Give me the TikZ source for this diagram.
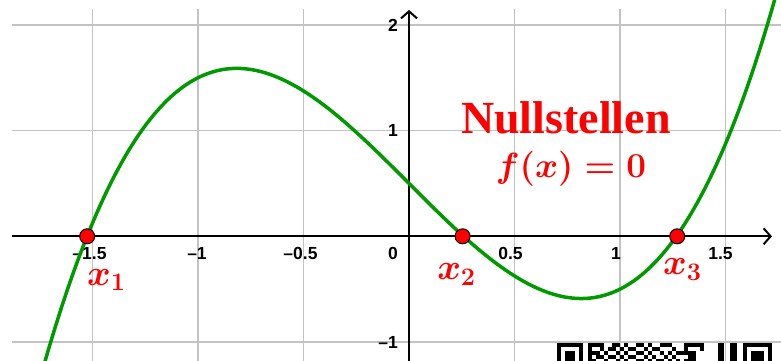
\RequirePackage{fix-cm}
\documentclass[tikz,border=0pt]{standalone}
\usepackage{fontspec}
\newfontfamily\axfont{Liberation Sans}
\newfontfamily\titlefont{Liberation Serif}
\usetikzlibrary{arrows.meta}
\definecolor{ggreen}{RGB}{0,153,0}
\definecolor{gridgray}{RGB}{195,195,195}
\begin{document}
\begin{tikzpicture}[x=211pt,y=105.7pt,
  gridline/.style={gridgray,line width=1.3pt},
  axisline/.style={black,line width=2pt,-{Straight Barb[length=7pt,width=16pt]}},
  ticklab/.style={font=\axfont\bfseries\fontsize{17.5}{17.5}\selectfont,inner sep=0pt},
  rootdot/.style={circle,fill=red,draw=black,line width=1pt,minimum size=15pt,inner sep=0pt},
  rootlab/.style={red,font=\fontsize{36}{36}\selectfont\boldmath,inner sep=0pt,anchor=base west},
  qr/.style={fill=black}]
\useasboundingbox (-1.9384,-1.1797) rectangle (1.7630,2.2356);
\clip (-1.9384,-1.1797) rectangle (1.7630,2.2356);
% grid
\foreach \gx in {-1.5,-1,-0.5,0.5,1,1.5} \draw[gridline] (\gx,-1.19) -- (\gx,2.150);
\foreach \gy in {-1,1,2} \draw[gridline] (-1.882,\gy) -- (1.77,\gy);
% axes
\coordinate (xs) at (-1.882,0);
\coordinate (xe) at (1.720,0);
\coordinate (ys) at (0,-1.19);
\coordinate (ye) at (0,2.141);
\draw[axisline] (xs) -- (xe);
\draw[axisline] (ys) -- (ye);
% tick labels
\node[ticklab] (tm15) at ([xshift=-3pt]-1.5,-0.167) {–1.5};
\node[ticklab] (tm1) at ([xshift=-1pt]-1,-0.167) {–1};
\node[ticklab] (tm05) at ([xshift=-3pt]-0.5,-0.167) {–0.5};
\node[ticklab] (tp05) at ([xshift=-4pt]0.5,-0.167) {0.5};
\node[ticklab] (tp1) at ([xshift=-4pt]1,-0.167) {1};
\node[ticklab] (tp15) at ([xshift=-5pt]1.5,-0.167) {1.5};
\node[ticklab,anchor=east] (t0) at (-0.052,-0.167) {0};
\node[ticklab,anchor=east] (ty2) at (-0.052,2) {2};
\node[ticklab,anchor=east] (ty1) at (-0.052,1) {1};
\node[ticklab,anchor=east] (tym1) at (-0.052,-1) {–1};
% curve
\draw[ggreen,line width=3.5pt,domain=-1.75:1.765,samples=200,smooth] plot (\x,{\x*\x*\x-2*\x+0.5});
% roots
\node[rootdot] (r1) at (-1.5253,0) {};
\node[rootdot] (r2) at (0.2541,0) {};
\node[rootdot] (r3) at (1.2712,0) {};
\node[rootlab] (l1) at (-1.526,-0.461) {$x_1$};
\node[rootlab] (l2) at (0.133,-0.413) {$x_2$};
\node[rootlab] (l3) at (1.204,-0.366) {$x_3$};
% title
\node[red,font=\titlefont\bfseries\fontsize{46}{46}\selectfont,anchor=base,inner sep=0pt] (title) at (0.744,0.977) {Nullstellen};
\node[red,font=\fontsize{35}{35}\selectfont\boldmath,anchor=base,inner sep=0pt] (eq) at (0.768,0.552) {$f(x)=0$};
% QR fragment (image px coordinates)
\begin{scope}[shift={(-1.9384,2.2356)},x=1pt,y=-1pt]
  \fill[qr] (557,343) rectangle (583,362);
  \fill[white] (561,347) rectangle (579,362);
  \fill[qr] (565,351) rectangle (575,362);
  \foreach \r/\cols in {0/{0,1,2,3,6,7,9,12,13,15,18,19,20,24,25,26,27,28},
                        1/{0,3,5,6,8,10,11,14,16,17,21,24,28},
                        2/{0,1,2,4,7,9,12,13,15,18,20,22,23,24,25,26},
                        3/{0,2,3,5,6,8,10,11,14,16,19,21,25,26},
                        4/{0,1,4,7,9,12,13,15,17,18,20,22,24,25,26}}
    \foreach \c in \cols
      \fill[qr] ({588+4*\c},{343+4*\r}) rectangle ({592+4*\c},{347+4*\r});
  \fill[qr] (718,343) rectangle (724,362);
  \fill[qr] (730,343) rectangle (737,362);
  \fill[qr] (743,343) rectangle (772,362);
  \fill[white] (747,347) rectangle (768,362);
  \fill[qr] (751,351) rectangle (764,362);
\end{scope}
\end{tikzpicture}
\end{document}
